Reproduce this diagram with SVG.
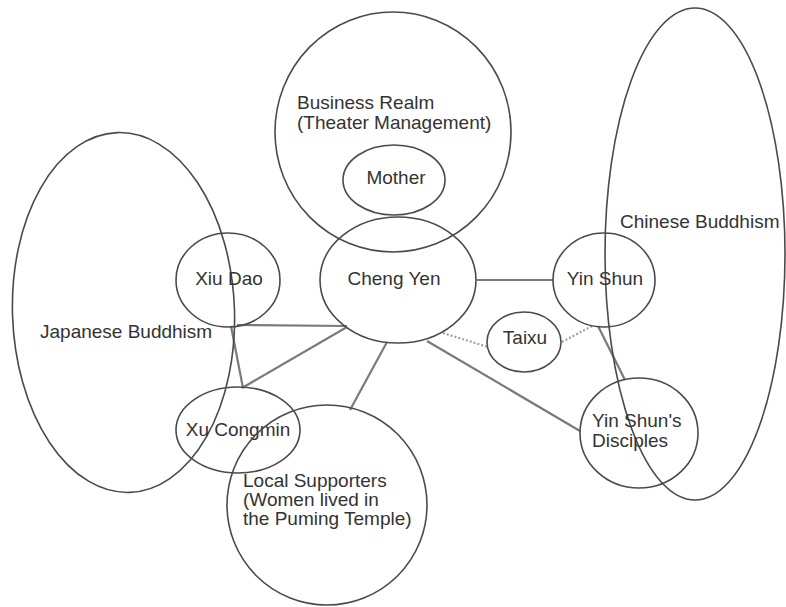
<svg xmlns="http://www.w3.org/2000/svg" width="786" height="607" viewBox="0 0 786 607">
<style>
.n{fill:none;stroke:#4a4a4a;stroke-width:1.6}
.c{stroke:#7a7a7a;stroke-width:2.2;fill:none}
.d{stroke:#a0a0a0;stroke-width:2.2;stroke-dasharray:2 2;fill:none}
text{font-family:"Liberation Sans",Arial,sans-serif;font-size:19px;fill:#333}
.m{text-anchor:middle}
</style>
<rect width="786" height="607" fill="#fff"/>
<g id="connectors">
<line class="c" x1="477" y1="280" x2="553" y2="280"/>
<line class="c" x1="237" y1="325" x2="347" y2="326"/>
<line class="c" x1="347" y1="327" x2="242" y2="388"/>
<line class="c" x1="231" y1="326" x2="243" y2="388"/>
<line class="c" x1="387" y1="342" x2="350" y2="410"/>
<line class="c" x1="427" y1="341" x2="580" y2="431"/>
<line class="c" x1="598" y1="326" x2="625" y2="380"/>
<line class="d" x1="443" y1="333" x2="488" y2="347"/>
<line class="d" x1="562" y1="342" x2="592" y2="326"/>
</g>
<g id="japanese-buddhism"><ellipse class="n" cx="123.5" cy="312.5" rx="111" ry="180" transform="rotate(-2 123.5 312.5)"/><text x="40" y="338">Japanese Buddhism</text></g>
<g id="chinese-buddhism"><ellipse class="n" cx="695" cy="254" rx="90" ry="246"/><text x="620" y="228">Chinese Buddhism</text></g>
<g id="business-realm"><ellipse class="n" cx="393" cy="132" rx="118" ry="120"/><text x="297" y="109">Business Realm</text><text x="297" y="129">(Theater Management)</text></g>
<g id="mother"><ellipse class="n" cx="394" cy="180" rx="51" ry="35"/><text class="m" x="396" y="184">Mother</text></g>
<g id="cheng-yen"><ellipse class="n" cx="398" cy="280" rx="78" ry="63"/><text class="m" x="394" y="285">Cheng Yen</text></g>
<g id="xiu-dao"><ellipse class="n" cx="228" cy="280" rx="52" ry="47"/><text class="m" x="229" y="285">Xiu Dao</text></g>
<g id="yin-shun"><ellipse class="n" cx="604" cy="280" rx="51" ry="47"/><text class="m" x="605" y="285">Yin Shun</text></g>
<g id="taixu"><ellipse class="n" cx="524" cy="342" rx="37" ry="30"/><text class="m" x="525" y="344">Taixu</text></g>
<g id="yin-shun-disciples"><ellipse class="n" cx="639" cy="433" rx="59" ry="55"/><text x="592" y="427">Yin Shun's</text><text x="592" y="447">Disciples</text></g>
<g id="xu-congmin"><ellipse class="n" cx="238" cy="430" rx="62" ry="43"/><text class="m" x="238" y="436">Xu Congmin</text></g>
<g id="local-supporters"><ellipse class="n" cx="327" cy="505" rx="100" ry="100"/><text x="243" y="487">Local Supporters</text><text x="243" y="506">(Women lived in</text><text x="243" y="525">the Puming Temple)</text></g>
</svg>
